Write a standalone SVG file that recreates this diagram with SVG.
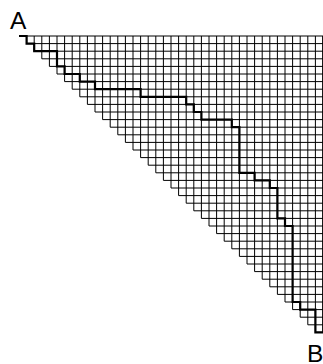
<svg xmlns="http://www.w3.org/2000/svg" width="323" height="364" viewBox="0 0 323 364">
<style>
.grid{fill:none;stroke:#000;stroke-width:1}
.walk{fill:none;stroke:#000;stroke-width:2.2;stroke-linejoin:miter;stroke-linecap:butt}
.lbl{font-family:"Liberation Sans",Arial,sans-serif;font-size:24.5px;fill:#000}
</style>
<rect width="323" height="364" fill="#fff"/>
<g id="grid">
<path class="grid" d="M19 36H323M26.6 43.6H323M34.2 51.2H323M41.8 58.8H323M49.4 66.4H323M57 74H323M64.6 81.6H323M72.2 89.2H323M79.8 96.8H323M87.4 104.4H323M95 112H323M102.6 119.6H323M110.2 127.2H323M117.8 134.8H323M125.4 142.4H323M133 150H323M140.6 157.6H323M148.2 165.2H323M155.8 172.8H323M163.4 180.4H323M171 188H323M178.6 195.6H323M186.2 203.2H323M193.8 210.8H323M201.4 218.4H323M209 226H323M216.6 233.6H323M224.2 241.2H323M231.8 248.8H323M239.4 256.4H323M247 264H323M254.6 271.6H323M262.2 279.2H323M269.8 286.8H323M277.4 294.4H323M285 302H323M292.6 309.6H323M300.2 317.2H323M307.8 324.8H323M315.4 332.4H323"/>
<path class="grid" d="M26.6 36V43.6M34.2 36V51.2M41.8 36V58.8M49.4 36V66.4M57 36V74M64.6 36V81.6M72.2 36V89.2M79.8 36V96.8M87.4 36V104.4M95 36V112M102.6 36V119.6M110.2 36V127.2M117.8 36V134.8M125.4 36V142.4M133 36V150M140.6 36V157.6M148.2 36V165.2M155.8 36V172.8M163.4 36V180.4M171 36V188M178.6 36V195.6M186.2 36V203.2M193.8 36V210.8M201.4 36V218.4M209 36V226M216.6 36V233.6M224.2 36V241.2M231.8 36V248.8M239.4 36V256.4M247 36V264M254.6 36V271.6M262.2 36V279.2M269.8 36V286.8M277.4 36V294.4M285 36V302M292.6 36V309.6M300.2 36V317.2M307.8 36V324.8M315.4 36V332.4M322.6 36V332.4"/>
</g>
<g id="connectors">
<path id="walk" class="walk" d="M19 36H26.6V43.6H34.2V51.2H57V66.4H64.6V74H79.8V81.6H95V89.2H140.6V96.8H186.2V104.4H193.8V112H201.4V119.6H231.8V127.2H239.4V172.8H254.6V180.4H269.8V188H277.4V218.4H285V226H292.6V302H300.2V309.6H315.4V332.4H323"/>
</g>
<g id="A"><text class="lbl" x="10" y="28.7">A</text></g>
<g id="B"><text class="lbl" x="307" y="362">B</text></g>
</svg>
